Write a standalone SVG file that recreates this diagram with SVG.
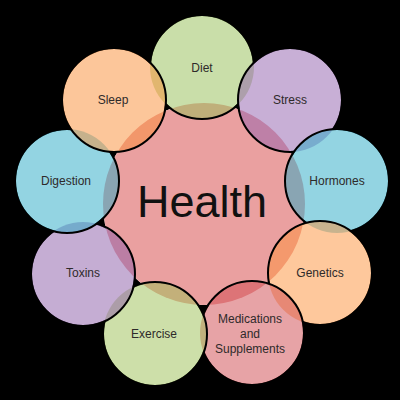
<svg xmlns="http://www.w3.org/2000/svg" width="400" height="400" viewBox="0 0 400 400">
<style>
.bd{fill:#fff}
.f{fill-opacity:0.5;stroke:none}
.s{fill:none;stroke:#000;stroke-width:2}
.lbl{font-family:"Liberation Sans",Arial,sans-serif;font-size:12px;fill:#2e2a2a;text-anchor:middle}
.big{font-family:"Liberation Sans",Arial,sans-serif;font-size:45px;fill:#111;text-anchor:middle}
</style>
<defs>
<mask id="m-diet" maskUnits="userSpaceOnUse" x="0" y="0" width="400" height="400"><rect width="400" height="400" fill="#fff"/><circle cx="290" cy="100" r="52"/><circle cx="114" cy="100" r="52"/></mask>
<mask id="m-stress" maskUnits="userSpaceOnUse" x="0" y="0" width="400" height="400"><rect width="400" height="400" fill="#fff"/><circle cx="337" cy="181" r="52"/></mask>
<mask id="m-hormones" maskUnits="userSpaceOnUse" x="0" y="0" width="400" height="400"><rect width="400" height="400" fill="#fff"/><circle cx="320" cy="273" r="52"/></mask>
<mask id="m-genetics" maskUnits="userSpaceOnUse" x="0" y="0" width="400" height="400"><rect width="400" height="400" fill="#fff"/><circle cx="252" cy="333" r="52"/></mask>
<mask id="m-meds" maskUnits="userSpaceOnUse" x="0" y="0" width="400" height="400"><rect width="400" height="400" fill="#fff"/><circle cx="155" cy="334" r="52"/></mask>
<mask id="m-exercise" maskUnits="userSpaceOnUse" x="0" y="0" width="400" height="400"><rect width="400" height="400" fill="#fff"/><circle cx="83" cy="274" r="52"/></mask>
<mask id="m-toxins" maskUnits="userSpaceOnUse" x="0" y="0" width="400" height="400"><rect width="400" height="400" fill="#fff"/><circle cx="67" cy="181" r="52"/></mask>
<mask id="m-digestion" maskUnits="userSpaceOnUse" x="0" y="0" width="400" height="400"><rect width="400" height="400" fill="#fff"/><circle cx="114" cy="100" r="52"/></mask>
</defs>
<rect width="400" height="400" fill="#000"/>
<g id="backdrop">
<circle class="bd" cx="204" cy="204" r="101"/>
<circle class="bd" cx="202" cy="67" r="51"/>
<circle class="bd" cx="290" cy="100" r="51"/>
<circle class="bd" cx="337" cy="181" r="51"/>
<circle class="bd" cx="320" cy="273" r="51"/>
<circle class="bd" cx="252" cy="333" r="51"/>
<circle class="bd" cx="155" cy="334" r="51"/>
<circle class="bd" cx="83" cy="274" r="51"/>
<circle class="bd" cx="67" cy="181" r="51"/>
<circle class="bd" cx="114" cy="100" r="51"/>
</g>
<g id="node-health">
<circle cx="204" cy="204" r="101" fill="#EAA0A0"/>
<text class="big" x="202" y="217">Health</text>
</g>
<g id="node-diet">
<circle class="f" cx="202" cy="67" r="52" fill="#93BD53"/>
<circle class="s" cx="202" cy="67" r="52" mask="url(#m-diet)"/>
<text class="lbl" x="202" y="72">Diet</text>
</g>
<g id="node-stress">
<circle class="f" cx="290" cy="100" r="52" fill="#915FAD"/>
<circle class="s" cx="290" cy="100" r="52" mask="url(#m-stress)"/>
<text class="lbl" x="290" y="104">Stress</text>
</g>
<g id="node-hormones">
<circle class="f" cx="337" cy="181" r="52" fill="#27A9C5"/>
<circle class="s" cx="337" cy="181" r="52" mask="url(#m-hormones)"/>
<text class="lbl" x="337" y="185">Hormones</text>
</g>
<g id="node-genetics">
<circle class="f" cx="320" cy="273" r="52" fill="#FD9139"/>
<circle class="s" cx="320" cy="273" r="52" mask="url(#m-genetics)"/>
<text class="lbl" x="320" y="277">Genetics</text>
</g>
<g id="node-medications">
<circle class="f" cx="252" cy="333" r="52" fill="#CF474D"/>
<circle class="s" cx="252" cy="333" r="52" mask="url(#m-meds)"/>
<text class="lbl" x="250" y="323">Medications</text>
<text class="lbl" x="250" y="338">and</text>
<text class="lbl" x="250" y="353">Supplements</text>
</g>
<g id="node-exercise">
<circle class="f" cx="155" cy="334" r="52" fill="#9BBF53"/>
<circle class="s" cx="155" cy="334" r="52" mask="url(#m-exercise)"/>
<text class="lbl" x="154" y="338">Exercise</text>
</g>
<g id="node-toxins">
<circle class="f" cx="83" cy="274" r="52" fill="#8B5BA7"/>
<circle class="s" cx="83" cy="274" r="52" mask="url(#m-toxins)"/>
<text class="lbl" x="83" y="277">Toxins</text>
</g>
<g id="node-digestion">
<circle class="f" cx="67" cy="181" r="52" fill="#27A9C5"/>
<circle class="s" cx="67" cy="181" r="52" mask="url(#m-digestion)"/>
<text class="lbl" x="66" y="185">Digestion</text>
</g>
<g id="node-sleep">
<circle class="f" cx="114" cy="100" r="52" fill="#F98D35"/>
<circle class="s" cx="114" cy="100" r="52"/>
<text class="lbl" x="113" y="104">Sleep</text>
</g>
</svg>
